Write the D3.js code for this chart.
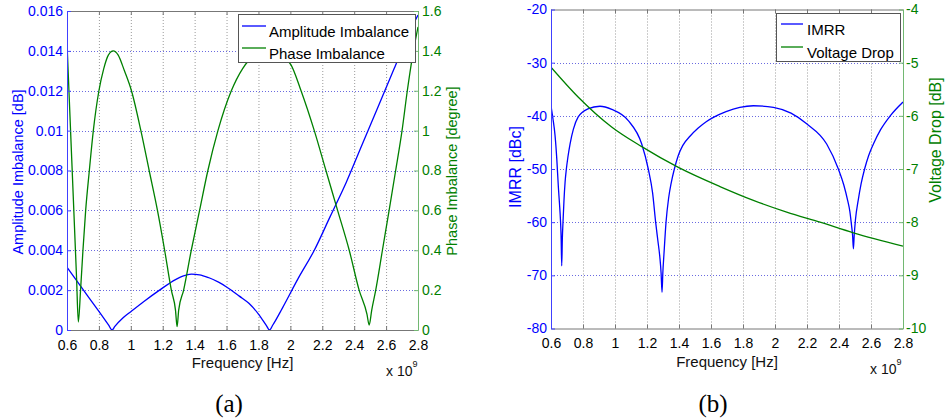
<!DOCTYPE html>
<html><head><meta charset="utf-8">
<script src="https://cdn.jsdelivr.net/npm/d3@7"></script>
<style>
body{margin:0;background:#fff}
svg{display:block}
text{font-family:"Liberation Sans",Arial,Helvetica,sans-serif}
</style></head><body>
<svg id="c" width="945" height="419"></svg>
<script>
// ---------- data (frequency in units of 1e9 Hz) ----------
const freqTicks = [0.6,0.8,1.0,1.2,1.4,1.6,1.8,2.0,2.2,2.4,2.6,2.8];

// (a) amplitude imbalance [dB]
const ampFreq = [0.6,0.7,0.8,0.86,0.883,0.9,0.95,1.0,1.08,1.18,1.28,1.33,1.38,1.43,1.49,1.55,1.6,1.68,1.74,1.8,1.85,1.869,1.89,1.95,2.05,2.15,2.25,2.35,2.45,2.55,2.65,2.75,2.8];
const ampImbalance = [0.00315,0.00204,0.00093,0.00026,0.0,0.00018,0.0006,0.00092,0.00142,0.0020,0.00253,0.00272,0.0028,0.00277,0.00262,0.0024,0.00216,0.0017,0.00134,0.0008,0.00022,0.0,0.00025,0.0011,0.0026,0.0040,0.0057,0.0074,0.0093,0.0112,0.0131,0.0150,0.0158];

// (a) phase imbalance [degree]
const phaseFreq = [0.6,0.63,0.66,0.671,0.685,0.70,0.717,0.74,0.765,0.80,0.83,0.86,0.89,0.92,0.96,1.004,1.063,1.115,1.167,1.212,1.254,1.28,1.29,1.30,1.331,1.379,1.431,1.483,1.546,1.63,1.70,1.78,1.865,1.95,2.004,2.067,2.15,2.223,2.296,2.369,2.431,2.48,2.494,2.51,2.535,2.577,2.619,2.66,2.70,2.733,2.765,2.8];
const phaseImbalance = [1.44,0.85,0.26,0.04,0.2,0.4,0.6,0.8,1.0,1.2,1.31,1.38,1.40,1.38,1.30,1.2,1.0,0.8,0.6,0.4,0.2,0.1,0.017,0.1,0.2,0.4,0.6,0.8,1.0,1.2,1.31,1.38,1.40,1.37,1.33,1.2,1.0,0.8,0.6,0.4,0.2,0.08,0.025,0.1,0.2,0.4,0.6,0.8,1.0,1.2,1.37,1.52];

// (b) IMRR [dBc]
const imrrFreq = [0.6,0.612,0.625,0.636,0.646,0.653,0.659,0.663,0.667,0.671,0.675,0.681,0.688,0.696,0.706,0.719,0.74,0.77,0.83,0.906,0.98,1.083,1.167,1.208,1.235,1.254,1.268,1.28,1.288,1.294,1.299,1.306,1.319,1.335,1.352,1.371,1.395,1.423,1.47,1.52,1.57,1.621,1.694,1.78,1.865,1.99,2.1,2.198,2.323,2.396,2.43,2.454,2.468,2.478,2.485,2.49,2.495,2.503,2.52,2.538,2.56,2.585,2.615,2.66,2.72,2.8];
const imrr = [-38.1,-40.5,-43.6,-48,-53.4,-56.5,-59.5,-62.5,-68.2,-63,-60,-56,-52.5,-50,-47.7,-45.3,-42.5,-40.2,-38.7,-38.2,-38.8,-40.9,-45.3,-50,-54.5,-60,-63.5,-66.5,-69.5,-73.2,-69.5,-66,-60,-55.5,-52.5,-50,-47.5,-45.6,-43.8,-42.3,-41.1,-40.2,-39.2,-38.4,-38.1,-38.4,-39.5,-41.5,-45.3,-50,-53,-55.9,-58,-60.5,-62.5,-65,-62.5,-59.5,-55.9,-52.8,-50,-47.5,-45.3,-42.6,-40,-37.4];

// (b) voltage drop [dB]
const vdFreq = [0.6,0.771,0.979,1.167,1.396,1.656,1.865,2.073,2.281,2.49,2.8];
const voltageDrop = [-5.085,-5.65,-6.21,-6.58,-6.97,-7.33,-7.59,-7.81,-8.0,-8.2,-8.45];

const ampTicks = [0,0.002,0.004,0.006,0.008,0.010,0.012,0.014,0.016];
const phaseTicks = [0,0.2,0.4,0.6,0.8,1.0,1.2,1.4,1.6];
const imrrTicks = [-20,-30,-40,-50,-60,-70,-80];
const vdTicks = [-4,-5,-6,-7,-8,-9,-10];

const BLUE = "#0000ff", GREEN = "#008000";
const svg = d3.select("#c");
const fmt = d => String(+(+d).toFixed(4));

function panel(o){
  const g = svg.append("g");
  const x = d3.scaleLinear().domain([0.6,2.8]).range([o.x0,o.x1]);
  const yL = d3.scaleLinear().domain(o.lDomain).range([o.y1,o.y0]);
  const yR = d3.scaleLinear().domain(o.rDomain).range([o.y1,o.y0]);

  // grid
  g.append("g").selectAll("line").data(freqTicks.slice(1,-1)).join("line")
    .attr("x1",d=>x(d)+0.5).attr("x2",d=>x(d)+0.5).attr("y1",o.y0).attr("y2",o.y1)
    .attr("stroke","#9a9a9a").attr("stroke-width",1).attr("stroke-dasharray","1,2");
  g.append("g").selectAll("line").data(o.lTicks.slice(1,-1)).join("line")
    .attr("x1",o.x0).attr("x2",o.x1).attr("y1",d=>Math.round(yL(d))+0.5).attr("y2",d=>Math.round(yL(d))+0.5)
    .attr("stroke","#6a6ae0").attr("stroke-width",1).attr("stroke-dasharray","1,2");

  // frame top
  g.append("line").attr("x1",o.x0).attr("x2",o.x1).attr("y1",o.y0+0.5).attr("y2",o.y0+0.5).attr("stroke","#777");

  // curves
  const lineL = d3.line().x(d=>x(d[0])).y(d=>yL(d[1])).curve(d3.curveMonotoneX);
  const lineR = d3.line().x(d=>x(d[0])).y(d=>yR(d[1])).curve(d3.curveMonotoneX);
  const clipId = "clip"+o.id;
  svg.append("clipPath").attr("id",clipId).append("rect")
    .attr("x",o.x0).attr("y",o.y0).attr("width",o.x1-o.x0).attr("height",o.y1-o.y0);
  const cg = g.append("g").attr("clip-path",`url(#${clipId})`);
  cg.append("path").datum(d3.zip(o.lx,o.ly)).attr("d",lineL)
    .attr("fill","none").attr("stroke",BLUE).attr("stroke-width",1.3);
  cg.append("path").datum(d3.zip(o.rx,o.ry)).attr("d",lineR)
    .attr("fill","none").attr("stroke",GREEN).attr("stroke-width",1.3);

  // axes
  const ax = g.append("g").attr("transform",`translate(0,${o.y1})`)
    .call(d3.axisBottom(x).tickValues(freqTicks).tickSizeInner(-4).tickSizeOuter(0).tickPadding(10).tickFormat(fmt));
  ax.select(".domain").attr("stroke","#777");
  ax.selectAll(".tick line").attr("stroke","#777");
  ax.selectAll("text").attr("fill","#000").style("font-size","14px");
  const at = g.append("g").attr("transform",`translate(0,${o.y0})`)
    .call(d3.axisTop(x).tickValues(freqTicks).tickSizeInner(-4).tickSizeOuter(0).tickFormat(""));
  at.select(".domain").remove();
  at.selectAll(".tick line").attr("stroke","#777");

  const al = g.append("g").attr("transform",`translate(${o.x0},0)`)
    .call(d3.axisLeft(yL).tickValues(o.lTicks).tickSizeInner(-4).tickSizeOuter(0).tickPadding(4).tickFormat(fmt));
  al.select(".domain").attr("stroke","#4040ff");
  al.selectAll(".tick line").attr("stroke","#4040ff");
  al.selectAll("text").attr("fill",BLUE).style("font-size","14px");

  const ar = g.append("g").attr("transform",`translate(${o.x1},0)`)
    .call(d3.axisRight(yR).tickValues(o.rTicks).tickSizeInner(-4).tickSizeOuter(0).tickPadding(o.rPad).tickFormat(fmt));
  ar.select(".domain").attr("stroke","#72b872");
  ar.selectAll(".tick line").attr("stroke","#72b872");
  ar.selectAll("text").attr("fill",GREEN).style("font-size","14px");

  // axis titles
  g.append("text").attr("transform",`translate(${o.lLab[0]},${o.lLab[1]}) rotate(-90)`)
    .attr("text-anchor","middle").attr("dominant-baseline","central").attr("fill",BLUE)
    .style("font-size",o.labSize+"px").text(o.lTitle);
  g.append("text").attr("transform",`translate(${o.rLab[0]},${o.rLab[1]}) rotate(-90)`)
    .attr("text-anchor","middle").attr("dominant-baseline","central").attr("fill",GREEN)
    .style("font-size",o.labSize+"px").text(o.rTitle);
  g.append("text").attr("x",(o.x0+o.x1)/2).attr("y",o.xLabY).attr("text-anchor","middle")
    .style("font-size","15px").attr("fill","#111").text("Frequency [Hz]");
  const ex = g.append("text").attr("x",o.expX).attr("y",o.expY).style("font-size","14px").attr("fill","#111");
  ex.append("tspan").text("x 10");
  ex.append("tspan").attr("dy",-9).style("font-size","9px").text("9");

  // legend
  const L = o.legend;
  g.append("rect").attr("x",L.x+0.5).attr("y",L.y+0.5).attr("width",L.w).attr("height",L.h)
    .attr("fill","#fff").attr("stroke","#555").attr("stroke-width",1);
  L.items.forEach((it,i)=>{
    const ly = L.y + L.rowY[i];
    g.append("line").attr("x1",L.x+L.lx0).attr("x2",L.x+L.lx1).attr("y1",ly-5).attr("y2",ly-5)
      .attr("stroke",it.c).attr("stroke-width",1.3);
    g.append("text").attr("x",L.x+L.tx).attr("y",ly).attr("dominant-baseline","central")
      .style("font-size","15px").attr("fill","#000").text(it.t);
  });

  // caption
  svg.append("text").attr("x",o.capX).attr("y",412).attr("text-anchor","middle")
    .style("font-family","'Liberation Serif','DejaVu Serif',serif").style("font-size","25px")
    .attr("fill","#000").text(o.caption);
}

panel({
  id:"a", x0:67, x1:418, y0:11, y1:330,
  lDomain:[0,0.016], rDomain:[0,1.6], lTicks:ampTicks, rTicks:phaseTicks, rPad:4,
  lx:ampFreq, ly:ampImbalance, rx:phaseFreq, ry:phaseImbalance,
  lTitle:"Amplitude Imbalance [dB]", rTitle:"Phase Imbalance [degree]",
  lLab:[18,172], rLab:[452,171], labSize:14.5,
  xLabY:368, expX:386, expY:376,
  legend:{x:238,y:14,w:177,h:48,lx0:4,lx1:28,tx:31,rowY:[17,39],
    items:[{t:"Amplitude Imbalance",c:BLUE},{t:"Phase Imbalance",c:GREEN}]},
  capX:229, caption:"(a)"
});

panel({
  id:"b", x0:551, x1:903, y0:9.5, y1:328.5,
  lDomain:[-80,-20], rDomain:[-10,-4], lTicks:imrrTicks, rTicks:vdTicks, rPad:3,
  lx:imrrFreq, ly:imrr, rx:vdFreq, ry:voltageDrop,
  lTitle:"IMRR [dBc]", rTitle:"Voltage Drop [dB]",
  lLab:[515,167], rLab:[935,140], labSize:16,
  xLabY:367, expX:870, expY:374,
  legend:{x:776,y:13,w:124,h:48,lx0:5,lx1:27,tx:31,rowY:[16,39],
    items:[{t:"IMRR",c:BLUE},{t:"Voltage Drop",c:GREEN}]},
  capX:713, caption:"(b)"
});
</script>
</body></html>
